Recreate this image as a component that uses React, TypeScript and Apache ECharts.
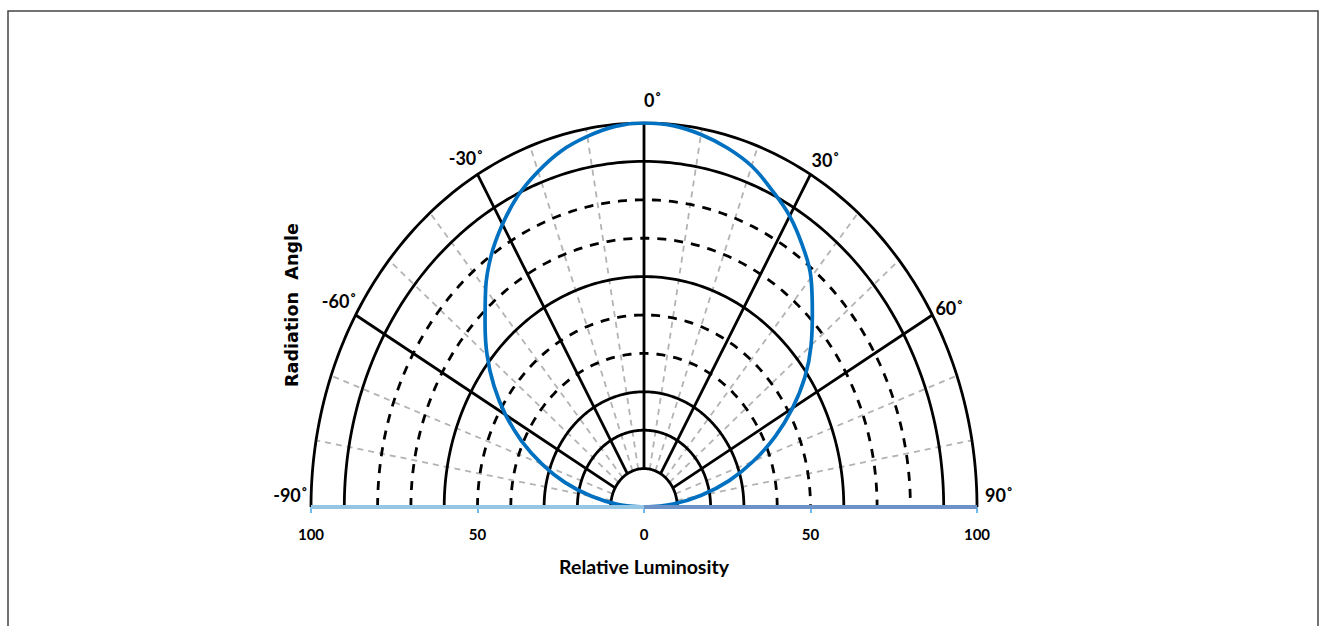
import React, { useEffect, useRef } from "react";
import * as echarts from "echarts";

// ---- data ----
const ringRadii = [10, 20, 30, 40, 50, 60, 70, 80, 90, 100];
const ringDashed = [false, false, false, true, true, false, true, true, false, false];
const majorSpokeAngles = [-60, -30, 0, 30, 60];
const minorSpokeAngles = [-80, -70, -50, -40, -20, -10, 10, 20, 40, 50, 70, 80];
const spokeInner = 10;
const spokeOuter = 100;
const angleLabelAngles = [-90, -60, -30, 0, 30, 60, 90];
const angleLabelTexts = ["-90˚", "-60˚", "-30˚", "0˚", "30˚", "60˚", "90˚"];
const curveAngles = [
  -90, -85, -80, -75, -70, -65, -60, -55, -50, -45, -40, -35, -30, -25, -20, -15, -10, -5, 0,
  5, 10, 15, 20, 25, 30, 35, 40, 45, 50, 55, 60, 65, 70, 75, 80, 85, 90,
];
const curveLuminosity = [
  0, 8, 16, 24.5, 32.5, 40.5, 48, 55, 61.5, 67.5, 74, 80, 85, 89.5, 93, 96, 98, 99.5, 100,
  99.7, 98.5, 96.8, 94.5, 91, 87.5, 83, 78, 71.5, 65.5, 59, 51.5, 43.5, 35, 26.5, 17.5, 8.8, 0,
];
const axisTickValues = [-100, -50, 0, 50, 100];
const xTitle = "Relative Luminosity";
const yTitle = "Radiation  Angle";

const labelFont = "Lato, 'Liberation Sans', Arial, sans-serif";

const toXY = (deg: number, r: number) => {
  const a = (deg * Math.PI) / 180;
  return [r * Math.sin(a), r * Math.cos(a)];
};

const arcPoints = (r: number) => {
  const pts: number[][] = [];
  for (let a = -90; a <= 90; a += 1) pts.push(toXY(a, r));
  return pts;
};

export default function App() {
  const ref = useRef<HTMLDivElement>(null);
  useEffect(() => {
    if (!ref.current) return;
    const chart = echarts.init(ref.current, undefined, { renderer: "svg" });

    const series: any[] = [];
    // minor spokes (gray dashed)
    minorSpokeAngles.forEach((a) => {
      series.push({
        type: "line",
        data: [toXY(a, spokeInner), toXY(a, spokeOuter)],
        symbol: "none",
        silent: true,
        z: 1,
        lineStyle: { color: "#b3b3b3", width: 1.8, type: [6, 5] },
      });
    });
    // rings
    ringRadii.forEach((r, i) => {
      series.push({
        type: "line",
        data: arcPoints(r),
        symbol: "none",
        silent: true,
        z: 2,
        lineStyle: {
          color: "#000",
          width: 2.8,
          type: ringDashed[i] ? [9, 8] : "solid",
        },
      });
    });
    // major spokes
    majorSpokeAngles.forEach((a) => {
      series.push({
        type: "line",
        data: [toXY(a, spokeInner), toXY(a, spokeOuter)],
        symbol: "none",
        silent: true,
        z: 2,
        lineStyle: { color: "#000", width: 2.8 },
      });
    });
    // luminosity curve
    series.push({
      type: "line",
      data: curveAngles.map((a, i) => toXY(a, curveLuminosity[i])),
      symbol: "none",
      smooth: 0.4,
      silent: true,
      z: 3,
      lineStyle: { color: "#0070c0", width: 3.7 },
    });
    // axis line halves
    series.push({
      type: "line",
      data: [[axisTickValues[0], 0], [axisTickValues[2], 0]],
      symbol: "none",
      silent: true,
      z: 4,
      lineStyle: { color: "#95c6e3", width: 4 },
    });
    series.push({
      type: "line",
      data: [[axisTickValues[2], 0], [axisTickValues[4], 0]],
      symbol: "none",
      silent: true,
      z: 4,
      lineStyle: { color: "#6d92c7", width: 4 },
    });
    // angle labels
    const labelPlacement: Record<number, any> = {
      [-90]: { align: "right", offset: [-3, -3] },
      [-60]: { align: "right", offset: [1, -5] },
      [-30]: { align: "right", offset: [6, -7] },
      [0]: { align: "left", offset: [0, -14] },
      [30]: { align: "left", offset: [1, -5] },
      [60]: { align: "left", offset: [3, 2] },
      [90]: { align: "left", offset: [8, -3] },
    };
    series.push({
      type: "scatter",
      symbolSize: 1,
      silent: true,
      z: 5,
      itemStyle: { color: "rgba(0,0,0,0)", opacity: 1 },
      data: angleLabelAngles.map((a, i) => ({
        value: toXY(a, 100),
        label: {
          show: true,
          position: "inside",
          formatter: angleLabelTexts[i],
          verticalAlign: "bottom",
          fontFamily: labelFont,
          fontWeight: "bold",
          fontSize: 18,
          color: "#000",
          opacity: 1,
          textBorderWidth: 0,
          ...labelPlacement[a],
        },
      })),
    });

    chart.setOption({
      animation: false,
      grid: { left: 311, right: 343, top: 123, bottom: 119 },
      xAxis: {
        type: "value",
        min: -100,
        max: 100,
        interval: 50,
        axisLine: { show: false },
        axisTick: { show: true, length: 6, lineStyle: { color: "#6cbcef", width: 2 } },
        axisLabel: {
          formatter: (v: number) => String(Math.abs(v)),
          fontFamily: labelFont,
          fontWeight: "bold",
          fontSize: 15,
          color: "#000",
          margin: 19,
        },
        splitLine: { show: false },
      },
      yAxis: { type: "value", min: 0, max: 100, show: false },
      graphic: [
        {
          type: "rect",
          shape: { x: 8, y: 11, width: 1310, height: 700 },
          style: { fill: "none", stroke: "#444", lineWidth: 1.5 },
          silent: true,
        },
        {
          type: "text",
          x: 644,
          y: 566,
          style: {
            text: xTitle,
            fontFamily: labelFont,
            fontWeight: "bold",
            fontSize: 19.5,
            fill: "#000",
            align: "center",
            verticalAlign: "middle",
          },
        },
        {
          type: "text",
          x: 292,
          y: 305,
          rotation: Math.PI / 2,
          style: {
            text: yTitle,
            fontFamily: "'DejaVu Sans', sans-serif",
            fontWeight: "bold",
            fontSize: 17.6,
            fill: "#000",
            align: "center",
            verticalAlign: "middle",
          },
        },
      ],
      series,
    });
    return () => chart.dispose();
  }, []);
  return (
    <div
      ref={ref}
      style={{ position: "absolute", left: 0, top: 0, width: 1320, height: 626, background: "#fff" }}
    />
  );
}
